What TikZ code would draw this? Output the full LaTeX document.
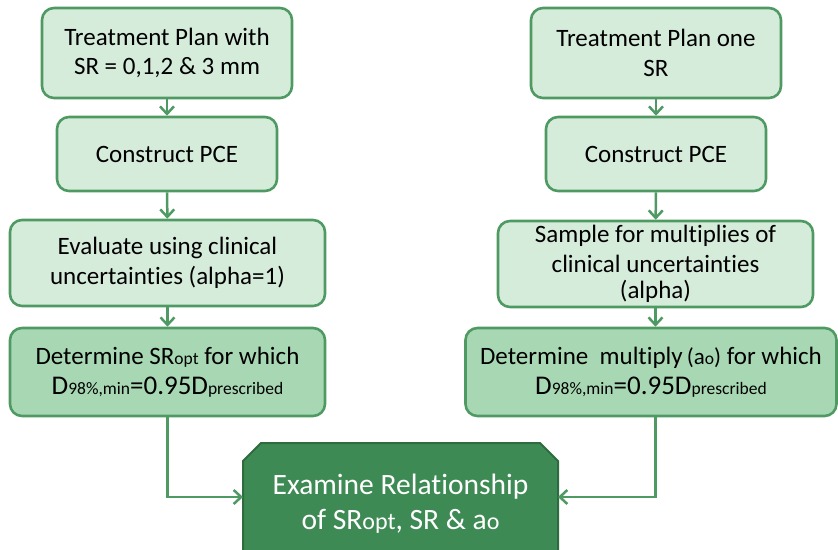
\documentclass[tikz,border=0pt]{standalone}
\usepackage{fontspec}
\setmainfont[Ligatures=NoCommon]{Carlito}
\usetikzlibrary{arrows.meta,calc}
\definecolor{bord}{HTML}{4F9A62}
\definecolor{lightf}{HTML}{D6ECDB}
\definecolor{midf}{HTML}{A8D8B3}
\definecolor{darkf}{HTML}{3E8A54}
\definecolor{darkb}{HTML}{2E6B3E}
\newcommand{\sbs}[1]{{\fontsize{17.5}{17.5}\selectfont #1}}
\newcommand{\dline}{{\fontsize{27}{30}\selectfont D\sbs{98\%,min}=0.95D\sbs{prescribed}}}
\tikzset{
  box/.style={draw=bord, line width=2.6pt, rounded corners=12pt, align=center,
    font=\fontsize{25}{29.5}\selectfont, inner sep=0pt, text=black},
  lbox/.style={box, fill=lightf},
  mbox/.style={box, fill=midf},
  arr/.style={draw=bord, line width=2.5pt, -{Straight Barb[length=7.5pt,width=14pt]}},
  btext/.style={text=white, align=center, font=\fontsize{29.5}{35}\selectfont}
}
\begin{document}
\begin{tikzpicture}[x=1pt,y=-1pt]
\useasboundingbox (0,0) rectangle (838,549);
% left column
\node[lbox, minimum width=250pt, minimum height=90pt] (l1) at (167,53) {Treatment Plan with\\SR = 0,1,2 \& 3 mm};
\node[lbox, minimum width=220pt, minimum height=74pt] (l2) at (167,154) {Construct PCE};
\node[lbox, minimum width=315pt, minimum height=86pt] (l3) at (167.5,263) {Evaluate using clinical\\uncertainties (alpha=1)};
\node[mbox, minimum width=315pt, minimum height=88pt] (l4) at (167.5,372) {Determine SR\sbs{opt} for which\\\dline};
% right column
\node[lbox, minimum width=250pt, minimum height=90pt] (r1) at (656,53) {Treatment Plan one\\SR};
\node[lbox, minimum width=220pt, minimum height=74pt] (r2) at (656,154) {Construct PCE};
\node[lbox, minimum width=315pt, minimum height=86pt] (r3) at (655.5,264) {Sample for multiplies of\\clinical uncertainties\\[-3pt](alpha)};
\node[mbox, minimum width=371pt, minimum height=88pt] (r4) at (651,372) {Determine\ \ multiply\,{\fontsize{23}{28}\selectfont(a\sbs{o})} for which\\\dline};
% bottom chamfered box
\coordinate (bw) at (243,497);
\coordinate (be) at (558,497);
\filldraw[draw=darkb, line width=2pt, fill=darkf]
  (243,560) -- (243,461) -- (261,443) -- (540,443) -- (558,461) -- (558,560) -- cycle;
\node[btext] (bt) at (400.5,504) {Examine Relationship\\of SR{\fontsize{24}{24}\selectfont opt}, SR \& a{\fontsize{24}{24}\selectfont o}};
% connectors
\draw[arr] (l1) -- (l2);
\draw[arr] (l2) -- (l3);
\draw[arr] (l3) -- (l4);
\draw[arr] (r1) -- (r2);
\draw[arr] (r2) -- (r3);
\draw[arr] (r3.south) -- (r3.south |- r4.north);
\draw[arr] (l4.south) |- (bw);
\draw[arr] (r3.south |- r4.south) |- (be);
\end{tikzpicture}
\end{document}
